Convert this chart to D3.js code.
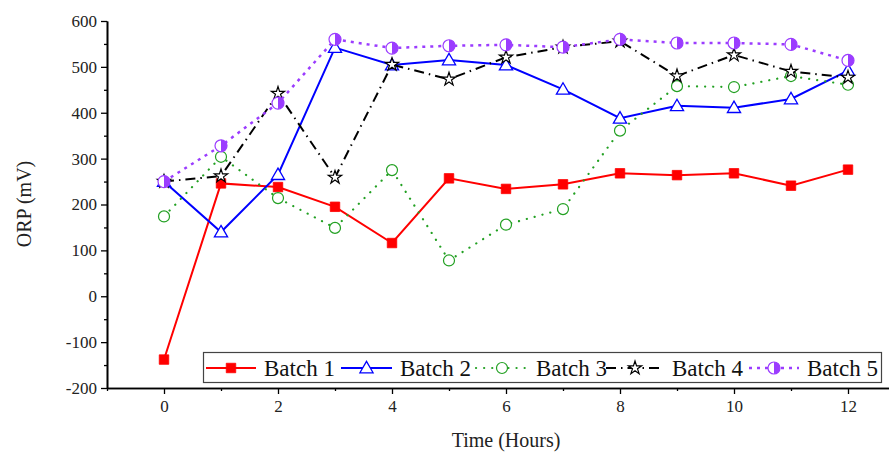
<!DOCTYPE html>
<html>
<head>
<meta charset="utf-8">
<script src="https://cdn.jsdelivr.net/npm/d3@7"></script>
<style>
body { margin: 0; background: #fff; }
svg { display: block; font-family: "Liberation Serif", "Times New Roman", serif; }
</style>
</head>
<body>
<div id="chart"></div>
<script>
// hours
var hours = [0, 1, 2, 3, 4, 5, 6, 7, 8, 9, 10, 11, 12];
var batchNames = ["Batch 1", "Batch 2", "Batch 3", "Batch 4", "Batch 5"];
// ORP values (mV)
var batch1 = [-138, 246, 238, 195, 116, 257, 234, 244, 268, 264, 268, 241, 276];
var batch2 = [250, 140, 265, 542, 504, 515, 504, 451, 388, 415, 411, 430, 492];
var batch3 = [174, 304, 214, 149, 275, 78, 156, 190, 361, 458, 456, 480, 461];
var batch4 = [250, 262, 442, 259, 505, 473, 521, 543, 556, 480, 526, 490, 477];
var batch5 = [250, 328, 421, 560, 541, 546, 548, 543, 560, 552, 552, 549, 514];
var xTicks = [0, 2, 4, 6, 8, 10, 12];
var yTicks = [-200, -100, 0, 100, 200, 300, 400, 500, 600];

var W = 889, H = 452;
var svg = d3.select("#chart").append("svg")
	.attr("width", W)
	.attr("height", H);

var x = d3.scaleLinear().domain([-1, 13]).range([107, 905]);
var y = d3.scaleLinear().domain([-200, 600]).range([388, 21]);

// axes, major + minor ticks
svg.append("g").attr("transform", "translate(0,388)")
	.call(d3.axisBottom(x).tickValues(xTicks).tickSize(6).tickSizeOuter(0).tickPadding(6));
svg.append("g").attr("transform", "translate(0,388)")
	.call(d3.axisBottom(x).tickValues(d3.range(-1, 14, 2)).tickSize(3).tickFormat("").tickSizeOuter(0));
svg.append("g").attr("transform", "translate(107,0)")
	.call(d3.axisLeft(y).tickValues(yTicks).tickSize(6).tickSizeOuter(0).tickPadding(4)
		.tickFormat(function(d) { return d < 0 ? "-" + Math.abs(d) : d; }));
svg.append("g").attr("transform", "translate(107,0)")
	.call(d3.axisLeft(y).tickValues(d3.range(-150, 600, 100)).tickSize(3).tickFormat("").tickSizeOuter(0));

svg.selectAll(".domain").attr("stroke", "#000").attr("stroke-width", 1.6);
svg.selectAll(".tick line").attr("stroke", "#000").attr("stroke-width", 1.3);
svg.selectAll(".tick text").attr("font-size", 17).attr("fill", "#222")
	.style("font-family", "'Liberation Serif', serif");

// axis titles
svg.append("text")
	.attr("x", 506).attr("y", 447)
	.attr("text-anchor", "middle")
	.attr("font-size", 20).attr("fill", "#222")
	.text("Time (Hours)");
svg.append("text")
	.attr("transform", "translate(31,204) rotate(-90)")
	.attr("text-anchor", "middle")
	.attr("font-size", 20).attr("fill", "#222")
	.text("ORP (mV)");

var series = [
	{ name: batchNames[0], values: batch1, color: "#ff0000", dash: null, width: 2, marker: "square" },
	{ name: batchNames[1], values: batch2, color: "#0000ff", dash: null, width: 2, marker: "triangle" },
	{ name: batchNames[2], values: batch3, color: "#22a022", dash: "0.1 8", width: 2.2, marker: "circle" },
	{ name: batchNames[3], values: batch4, color: "#000000", dash: "10 5 1.5 5", width: 2, marker: "star" },
	{ name: batchNames[4], values: batch5, color: "#9b3cff", dash: "3 5", width: 2.5, marker: "half" }
];

function drawMarker(g, type, color) {
	if (type == "square") {
		g.append("path").attr("d", d3.symbol().type(d3.symbolSquare).size(90)())
			.attr("fill", color).attr("stroke", color).attr("stroke-width", 0.8);
	} else if (type == "triangle") {
		g.append("path").attr("d", d3.symbol().type(d3.symbolTriangle).size(75)())
			.attr("transform", "translate(0,1)")
			.attr("fill", "#fff").attr("stroke", color).attr("stroke-width", 1.3);
	} else if (type == "circle") {
		g.append("circle").attr("r", 5.5)
			.attr("fill", "#fff").attr("stroke", color).attr("stroke-width", 1.2);
	} else if (type == "star") {
		g.append("path").attr("d", d3.symbol().type(d3.symbolStar).size(55)())
			.attr("fill", "#fff").attr("stroke", color).attr("stroke-width", 1.2);
	} else if (type == "half") {
		g.append("circle").attr("r", 6)
			.attr("fill", "#fff").attr("stroke", color).attr("stroke-width", 1.2);
		g.append("path").attr("d", "M0,-6A6,6 0 0,1 0,6Z").attr("fill", color);
	}
}

var line = d3.line()
	.x(function(d) { return x(d.h); })
	.y(function(d) { return y(d.v); });

series.forEach(function(s) {
	var pts = hours.map(function(h, i) { return { h: h, v: s.values[i] }; });
	svg.append("path")
		.datum(pts)
		.attr("d", line)
		.attr("fill", "none")
		.attr("stroke", s.color)
		.attr("stroke-width", s.width)
		.attr("stroke-linecap", s.marker == "circle" ? "round" : "butt")
		.attr("stroke-dasharray", s.dash);
	pts.forEach(function(p) {
		var g = svg.append("g").attr("transform", "translate(" + x(p.h) + "," + y(p.v) + ")");
		drawMarker(g, s.marker, s.color);
	});
});

// legend
var legend = svg.append("g");
legend.append("rect")
	.attr("x", 203.5).attr("y", 352.5)
	.attr("width", 678).attr("height", 30)
	.attr("fill", "#fff").attr("stroke", "#444").attr("stroke-width", 1.2);
var legX = [206, 341, 476, 606, 749];
var legTextX = [264, 400, 536, 672, 807];
series.forEach(function(s, i) {
	var lx = legX[i], lw = legTextX[i] - legX[i] - 8;
	legend.append("line")
		.attr("x1", lx).attr("x2", lx + lw)
		.attr("y1", 368).attr("y2", 368)
		.attr("stroke", s.color)
		.attr("stroke-width", s.width)
		.attr("stroke-linecap", s.marker == "circle" ? "round" : "butt")
		.attr("stroke-dasharray", s.dash);
	var g = legend.append("g").attr("transform", "translate(" + (lx + lw / 2) + ",368)");
	drawMarker(g, s.marker, s.color);
	legend.append("text")
		.attr("x", legTextX[i]).attr("y", 376)
		.attr("font-size", 23).attr("fill", "#111")
		.text(s.name);
});
</script>
</body>
</html>
